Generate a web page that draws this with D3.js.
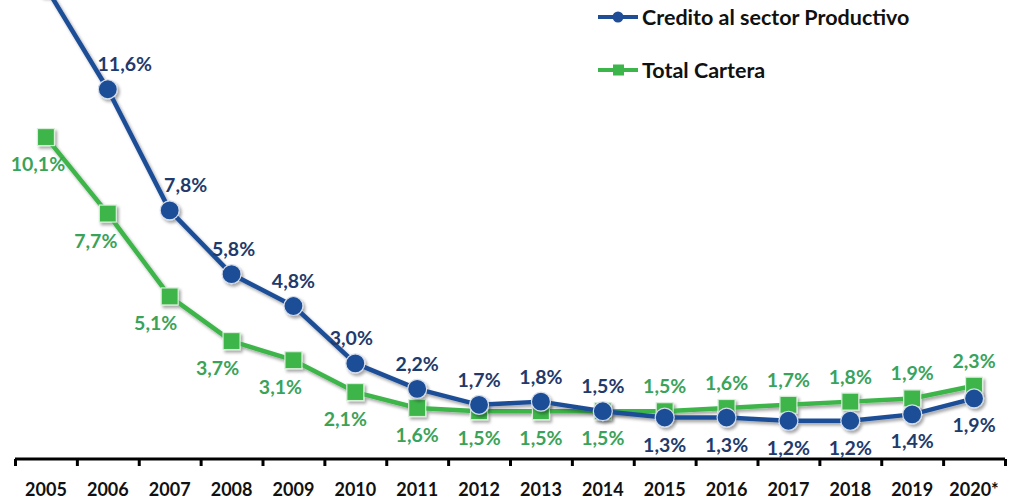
<!DOCTYPE html>
<html>
<head>
<meta charset="utf-8">
<script src="https://cdn.jsdelivr.net/npm/d3@7"></script>
<style>
  body { margin: 0; background: #fff; }
  svg { display: block; }
</style>
</head>
<body>
<div id="chart"></div>
<script>
const width = 1019
const height = 500
const margin = {top: 0, right: 14, bottom: 41, left: 15}

// datos
const years = ["2005", "2006", "2007", "2008", "2009", "2010", "2011", "2012", "2013", "2014", "2015", "2016", "2017", "2018", "2019", "2020*"]
const creditoProductivo = [14.8, 11.6, 7.8, 5.8, 4.8, 3.0, 2.2, 1.7, 1.8, 1.5, 1.3, 1.3, 1.2, 1.2, 1.4, 1.9]
const totalCartera = [10.1, 7.7, 5.1, 3.7, 3.1, 2.1, 1.6, 1.5, 1.5, 1.5, 1.5, 1.6, 1.7, 1.8, 1.9, 2.3]
// posicion de etiqueta: 1 arriba, -1 abajo
const posCredito = [1, 1, 1, 1, 1, 1, 1, 1, 1, 1, -1, -1, -1, -1, -1, -1]
const posCartera = [-1, -1, -1, -1, -1, -1, -1, -1, -1, -1, 1, 1, 1, 1, 1, 1]
// pequeños desplazamientos horizontales de etiquetas (px)
const dxCredito = [0, 17, 16, 2, 0, -4, 0, 0, 0, 0, 0, 0, 0, 0, 0, 0]
const dxCartera = [-8, -12, -14, -14, -13, -10, 0, 0, 0, 0, 0, 0, 0, 0, 0, 0]

const azul = "#1f4e97"
const azulTexto = "#223a6b"
const verde = "#3cb54a"
const verdeTexto = "#3aa35a"
const fuente = "Lato, 'Open Sans', sans-serif"

const svg = d3.select("div#chart").append("svg").attr("width", width).attr("height", height)

const defs = svg.append("defs")
const sombra = defs.append("filter").attr("id", "sombra")
    .attr("x", "-20%").attr("y", "-20%").attr("width", "160%").attr("height", "160%")
sombra.append("feDropShadow").attr("dx", 2).attr("dy", 2.5).attr("stdDeviation", 1.6)
    .attr("flood-color", "#000").attr("flood-opacity", 0.35)

const x = d3.scaleBand().domain(years).range([margin.left, width - margin.right])
const xEdges = d3.scaleLinear().domain([0, years.length]).range([margin.left, width - margin.right])
const y = d3.scaleLinear().domain([0, 14.4]).range([height - margin.bottom, 0])

const xc = d => x(d) + x.bandwidth() / 2

// eje x
const axisGroup = svg.append("g").attr("class", "axisGroup")
    .attr("transform", `translate(0, ${y(0)})`)

axisGroup.append("g")
    .call(d3.axisBottom(xEdges).tickValues(d3.range(years.length + 1)).tickFormat("").tickSize(7).tickSizeOuter(7))
    .call(g => g.select(".domain").attr("stroke", "#000").attr("stroke-width", 3).attr("d", `M${margin.left},0H${width - margin.right}`))
    .call(g => g.selectAll(".tick line").attr("stroke", "#000").attr("stroke-width", 3))

axisGroup.append("g")
    .call(d3.axisBottom(x).tickSize(0).tickPadding(24))
    .call(g => g.select(".domain").remove())
    .call(g => g.selectAll("text")
        .attr("fill", "#111")
        .attr("font-family", fuente)
        .attr("font-weight", "bold")
        .attr("font-size", "18px"))

function dibujarSerie(valores, color, colorTexto, posiciones, desplaz, forma) {
    const datos = years.map((yr, i) => ({year: yr, value: valores[i], pos: posiciones[i], dx: desplaz[i]}))
    const g = svg.append("g").attr("filter", "url(#sombra)")

    g.append("path").datum(datos)
        .attr("fill", "none")
        .attr("stroke", color)
        .attr("stroke-width", 4.5)
        .attr("stroke-linejoin", "round")
        .attr("d", d3.line().x(d => xc(d.year)).y(d => y(d.value)))

    if (forma === "circle") {
        g.selectAll("circle").data(datos).enter().append("circle")
            .attr("cx", d => xc(d.year))
            .attr("cy", d => y(d.value))
            .attr("r", 9.5)
            .attr("fill", color)
            .attr("stroke", "#d5deec")
            .attr("stroke-width", 1.2)
    } else {
        g.selectAll("rect").data(datos).enter().append("rect")
            .attr("x", d => xc(d.year) - 8.5)
            .attr("y", d => y(d.value) - 8.5)
            .attr("width", 17)
            .attr("height", 17)
            .attr("fill", color)
            .attr("stroke", "#d8eed9")
            .attr("stroke-width", 1.2)
    }

    // solo las etiquetas que caen dentro del area visible
    const visibles = datos.filter(d => y(d.value) > 30)
    svg.append("g").selectAll("text").data(visibles).enter().append("text")
        .attr("x", d => xc(d.year) + d.dx)
        .attr("y", d => y(d.value) + (d.pos > 0 ? -18 : 34))
        .attr("text-anchor", "middle")
        .attr("fill", colorTexto)
        .attr("font-family", fuente)
        .attr("font-weight", "bold")
        .attr("font-size", "19.5px")
        .text(d => d3.format(".1f")(d.value).replace(".", ",") + "%")
}

dibujarSerie(totalCartera, verde, verdeTexto, posCartera, dxCartera, "rect")
dibujarSerie(creditoProductivo, azul, azulTexto, posCredito, dxCredito, "circle")

// leyenda
const leyenda = [
    {nombre: "Credito al sector Productivo", color: azul, forma: "circle", y: 17},
    {nombre: "Total Cartera", color: verde, forma: "rect", y: 70}
]
const legendGroup = svg.append("g").attr("class", "legend").attr("transform", "translate(598, 0)")
leyenda.forEach(l => {
    const item = legendGroup.append("g").attr("transform", `translate(0, ${l.y})`)
    item.append("line").attr("x1", 0).attr("x2", 40).attr("stroke", l.color).attr("stroke-width", 4)
    if (l.forma === "circle") {
        item.append("circle").attr("cx", 20).attr("r", 5.5).attr("fill", l.color)
    } else {
        item.append("rect").attr("x", 15).attr("y", -5.5).attr("width", 11).attr("height", 11).attr("fill", l.color)
    }
    item.append("text").attr("x", 44).attr("dy", "0.35em")
        .attr("fill", "#111")
        .attr("font-family", fuente)
        .attr("font-weight", "bold")
        .attr("font-size", "21.5px")
        .text(l.nombre)
})
</script>
</body>
</html>
